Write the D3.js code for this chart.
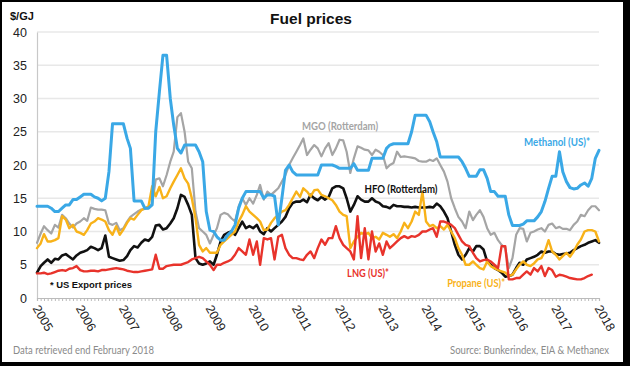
<!DOCTYPE html>
<html><head><meta charset="utf-8">
<script src="https://cdn.jsdelivr.net/npm/d3@7"></script>
<style>
html,body{margin:0;padding:0;background:#000;}
svg{display:block;}
</style></head>
<body>
<svg id="chart" width="630" height="366"></svg>
<script>
// ---- DATA (monthly, starting Jan 2005) ----
const startMonth = "2005-01";
const yTicks = [0, 5, 10, 15, 20, 25, 30, 35, 40];
const xTickYears = [2005,2006,2007,2008,2009,2010,2011,2012,2013,2014,2015,2016,2017,2018];

const methanol = [13.8,13.8,13.8,13.8,13.5,13,13,13.5,14,14,14.8,14.8,
15.2,15.6,15.6,15.6,15.2,15,14.6,15,19,26.2,26.2,26.2,
26.2,24,22.5,14.6,14.6,14.6,13.5,13.5,14,25,31,36.5,
36.5,30,26,22.5,21.8,23,23,23,23,22,20.5,13,
10.2,10,9.2,8.7,8.7,9.5,10,11,13.5,15,16,16,
16,16,16,15,15.5,15.5,15.3,11,15,19.2,20,19,
18.5,18.5,18.5,18.5,18.5,18.5,18.5,20,20,20,20,19.8,
19.5,19.5,19.5,19.5,20.2,19.2,19.2,19.2,19.2,21,21,21,
21,22.5,23,23.2,23.2,23.2,23.2,23.2,25,27.5,27.5,27.5,
27.5,26.5,25,23.5,21.2,21.2,21.2,21.2,21.2,21.2,20.5,19.5,
18.3,18.3,18.3,19.3,19.3,18,16,16,15.3,15.3,15.3,12.5,
10.9,10.9,10.9,11.1,11.6,11.6,11.6,12.2,13,14.5,16.5,18.3,
18.3,22,19,17.5,16.6,16.4,16.5,17,17.3,16.8,18,21,22.2];

const mgo = [8.3,9.7,10.8,10.2,9.7,11,10.6,12.5,12,11.2,10.6,11.2,
11.5,12,11.6,13.6,13.4,13.3,13.3,13.2,11.2,11,11.3,10.2,
10.5,11.5,12.2,12.6,13,13.3,13.4,13.5,14.2,17.8,18,16.8,
18.5,20.5,22,27.2,27.8,25,20.5,19.5,13,10.5,10,9.5,
8.2,9.5,10.5,12.5,12.8,12.6,12,11.5,13.8,15,14,15,
14.2,15.5,17,14.8,16,15.5,16,16.5,17.5,18.5,20,21,
22,23,24,21.5,22.3,23,22.5,21.3,22.5,23.3,21.5,22.5,
23.8,23.7,22,18.8,21,22.8,22.6,22.3,22.2,21.5,22.3,22,
21.5,19.5,20,20.3,22,21.2,21.3,21.2,21.1,21,20.6,20.5,
20.5,20.8,20.6,21,20,19,17.5,15,13.5,12.2,11.5,10.5,
13,11.7,12.5,13.2,12.2,10.5,9.5,9.8,8.7,8,7.5,4.5,
6,9.5,10.5,10.4,8.5,9.8,10,10.3,10.5,10,11,11.2,
10.5,10.7,10.4,10.4,10.2,11,11.5,12.5,12.3,13.2,13.8,13.8,13.2];

const hfo = [3.8,4.8,5.3,5.8,5.3,5.9,5.8,6.4,6.6,6.2,5.8,6.4,
6.8,7,7.2,7.7,7.5,7.2,7.5,9.4,6.2,6,5.8,5.6,
5.7,6.3,7.2,7.8,7.6,8.3,8.8,8.6,9.2,10.9,11,10.3,
10.5,11.2,12,13.5,15.5,15.2,14,12.5,6,5.2,5,5.2,
5.5,5,6.5,8.5,9.5,9.8,10,9.5,10.5,11.5,10.5,10.8,
10.5,11,10,9.6,10.5,10,10.5,11,11.5,12.2,13.5,14.3,
14.5,14.5,14.8,14.4,15.5,15,14.7,15.2,14.8,15.2,16.5,16.8,
16.8,16.5,15,13,14,15.3,14.8,14.5,14.5,15,14.5,14.3,
13.8,13.7,13.5,14,13.8,13.8,13.7,13.7,13.6,13.7,13.6,13.6,
13.6,13.7,13.6,14.2,13.8,13,12,10,8,6.5,5.8,6.5,
7.5,7,7.8,7.8,7.3,5.5,5,4.5,4.2,3.8,3.2,3.3,
3.5,4.5,5.3,5,5.8,6,6.2,6.5,7,6.8,7,7,
6.6,6.5,6.6,6.7,6.8,7.2,7.5,7.8,8,8.3,8.5,8.7,8.3];

const propane = [7.5,8.2,9.6,8.5,8.5,8.7,9,12.3,11.8,10.5,11,10,
9.8,9.5,10.2,11.2,11.5,12,11.8,11.5,10.2,9.5,10.8,9.5,
10.3,11.3,12,11.8,12.5,13.2,13.5,13.8,16.8,15.3,16.7,15,
15.3,16.5,17.5,18.5,19.5,18,17.2,15,12,8,7,7.5,
6.8,6.8,6.8,8,8.5,9,9.5,10,11.5,12.5,13.8,13,
12.5,12,11.5,10.2,10.3,11.3,12,12.5,13,13.2,14,15,
16,15.2,16.5,16,15.3,16.2,16.3,15.5,15.3,15,14.7,14,
13,12.5,12.3,7.5,8.5,9.2,9.8,9.6,9.8,9,9.2,8.8,
9.8,9.5,9.2,9.6,9,10,11.3,10.5,11.5,13,12.5,16,
11.5,10.8,11,10.5,10.8,10.3,11,10,9,7.5,6.5,5,
5,5.5,5,4.5,4.3,5.5,4.8,4.5,4.2,4,3.8,3.3,
3.5,4.3,5,5.5,5,4.8,5.2,5.8,6,7,8.7,7,
6.5,5.8,6.3,6.8,6.2,7,8,8.8,10,10.2,10.2,10,8.5];

const lng = [3.7,3.7,3.8,3.6,3.7,3.9,4.1,4.2,4.1,4.4,4.5,4.8,
4.2,4,4,4.1,4.1,4,4.2,4.2,4.3,4.4,4.5,4.4,
4.3,4.1,4,3.9,3.9,4,4.1,4.2,4.3,6.5,4.4,4.4,
4.8,4.9,5,5,5,5.2,5.4,5.8,6,6.2,6,5.5,
5,4.2,5,5,5.3,5.5,5.8,6.5,7.5,7,6.5,8.8,
6.5,8.5,5,9,8.8,9,5.8,9.2,9.5,7.5,6.5,6,
6,5.8,5.7,6.5,7,6,7.5,8.8,8,9,9,10.8,
9,8,7.5,7,5.8,12.3,6,10.5,5.8,10,7,8.2,
6.5,8.5,7.5,8,8.5,9,9.3,9,9.3,9.2,9.5,10,
10,10.3,10.5,9.2,11.5,11.5,11.3,11,10.5,9.5,8.5,8,
7.8,6.8,6,5.5,5.7,5.8,5.5,5,4.5,7.8,7.8,2.8,
2.8,3,3,3.5,4,3.5,4.5,4,4.8,3.3,4.5,4.2,
3.2,3.5,3.4,3.2,3,2.9,2.8,2.8,3,3.3,3.5];

const seriesNames = ["MGO (Rotterdam)","HFO (Rotterdam)","Propane (US)*","LNG (US)*","Methanol (US)*"];
const seriesColors = ["#a5a5a5","#111111","#f8b219","#e8332b","#3aa8e6"];
const seriesWidths = [2.2,2.6,2.4,2.4,3];
const seriesValues = [mgo, hfo, propane, lng, methanol];

// label anchors in data space: [year fraction, value]
const labelAnchors = [[2012.01,25.3],[2013.42,15.8],[2015.16,1.7],[2012.66,3.2],[2017.03,22.8]];
const labelWidths = [76,73,58,42,66];

// ---- CHART ----
const svg = d3.select("#chart");
svg.append("rect").attr("x",2).attr("y",2).attr("width",621).attr("height",360).attr("fill","#fff");

const x = d3.scaleTime().domain([new Date(2005,0,1), new Date(2018,0,1)]).range([37, 599]);
const y = d3.scaleLinear().domain([0,40]).range([298, 32]);
const parse = d3.timeParse("%Y-%m");
const t0 = parse(startMonth);
const dateOf = i => d3.timeMonth.offset(t0, i);
const yearToDate = yf => { const yr = Math.floor(yf); const frac = yf - yr; return new Date(yr, 0, 1 + Math.round(frac*365)); };

// gridlines
svg.append("g").selectAll("line").data(yTicks.filter(d=>d>0)).join("line")
  .attr("x1",37).attr("x2",599).attr("y1",d=>y(d)).attr("y2",d=>y(d))
  .attr("stroke","#e8e8e8").attr("stroke-width",1.6);

// y axis
const yAxis = svg.append("g").attr("transform","translate(37,0)")
  .call(d3.axisLeft(y).tickValues(yTicks).tickSize(0).tickPadding(10));
yAxis.select(".domain").attr("stroke","#c8c8c8").attr("stroke-width",1.2);
yAxis.selectAll("text").attr("font-family","Liberation Sans, Arial, sans-serif").attr("font-size",12.5).attr("fill","#222");

// x axis with monthly minor ticks
const months = d3.timeMonth.range(new Date(2005,0,1), new Date(2018,0,2));
const xAxis = svg.append("g").attr("transform","translate(0,298)")
  .call(d3.axisBottom(x).tickValues(months).tickSize(3).tickFormat(""));
xAxis.select(".domain").attr("stroke","#bbb").attr("stroke-width",1.2);
xAxis.selectAll(".tick line").attr("stroke","#bbb");

svg.append("g").selectAll("text").data(xTickYears).join("text")
  .attr("transform", d => `translate(${x(new Date(d,0,1))-1},306) rotate(60)`)
  .attr("font-family","Liberation Sans, Arial, sans-serif").attr("font-size",12.5).attr("fill","#222")
  .attr("dy","0.35em")
  .text(d=>d);

// lines
const line = d3.line().defined(d=>d!=null).x((d,i)=>x(dateOf(i))).y(d=>y(d)).curve(d3.curveLinear);
seriesValues.forEach((vals,k)=>{
  svg.append("path").datum(vals).attr("d",line)
    .attr("fill","none").attr("stroke",seriesColors[k]).attr("stroke-width",seriesWidths[k])
    .attr("stroke-linejoin","round").attr("stroke-linecap","round");
});

// series labels
seriesNames.forEach((n,k)=>{
  const a = labelAnchors[k];
  svg.append("text").attr("x", x(yearToDate(a[0]))).attr("y", y(a[1]))
    .attr("text-anchor","middle").attr("font-family","Lato, sans-serif").attr("font-weight","bold")
    .attr("font-size",10.5).attr("fill",seriesColors[k])
    .attr("textLength",labelWidths[k]).attr("lengthAdjust","spacingAndGlyphs")
    .text(n);
});

svg.append("text").attr("x", x(yearToDate(2005.3))).attr("y", y(1.5))
  .attr("font-family","Liberation Sans, Arial, sans-serif").attr("font-weight","bold").attr("font-size",9.5)
  .attr("fill","#111").attr("textLength",82).attr("lengthAdjust","spacingAndGlyphs")
  .text("* US Export prices");

// title & unit
svg.append("text").attr("x",311).attr("y",24).attr("text-anchor","middle")
  .attr("font-family","Liberation Sans, Arial, sans-serif").attr("font-weight","bold").attr("font-size",15.5)
  .attr("fill","#111").text("Fuel prices");
svg.append("text").attr("x",10).attr("y",20)
  .attr("font-family","Liberation Sans, Arial, sans-serif").attr("font-weight","bold").attr("font-size",11)
  .attr("fill","#111").text("$/GJ");

// footers
svg.append("text").attr("x",13).attr("y",354)
  .attr("font-family","Lato, sans-serif").attr("font-size",10.5).attr("fill","#8a8a8a")
  .attr("textLength",141).attr("lengthAdjust","spacingAndGlyphs")
  .text("Data retrieved end February 2018");
svg.append("text").attr("x",609).attr("y",354).attr("text-anchor","end")
  .attr("font-family","Lato, sans-serif").attr("font-size",10.5).attr("fill","#8a8a8a")
  .attr("textLength",159).attr("lengthAdjust","spacingAndGlyphs")
  .text("Source: Bunkerindex, EIA & Methanex");
</script>
</body></html>
